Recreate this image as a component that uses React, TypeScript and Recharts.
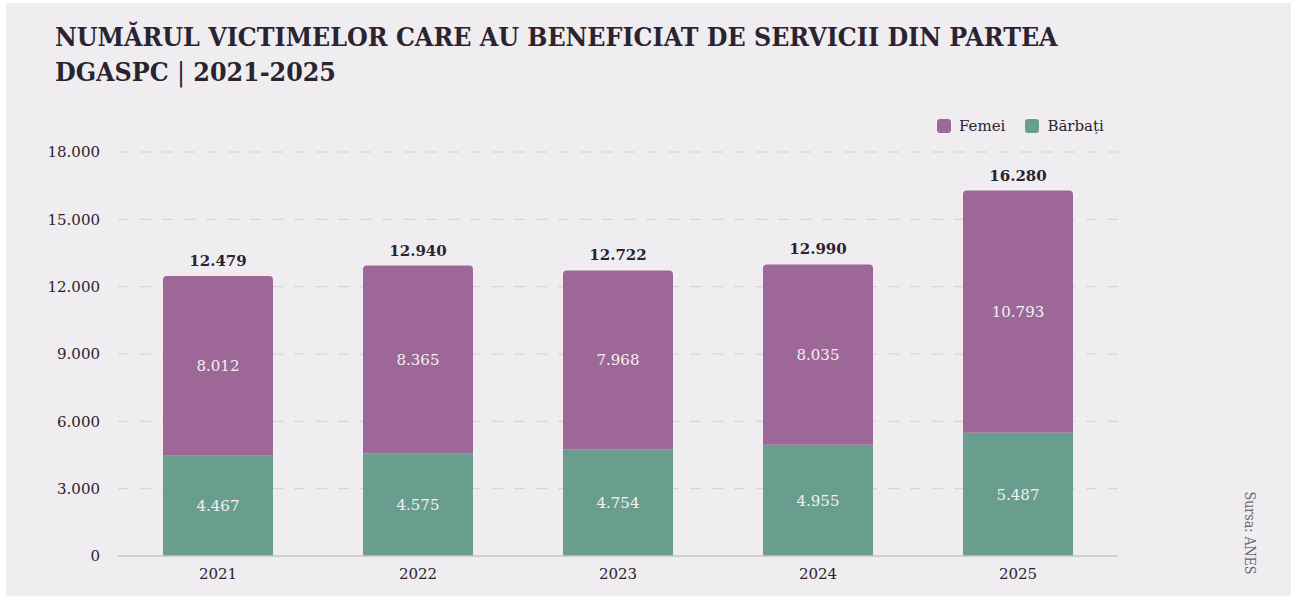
import React from 'react';
import { BarChart, Bar, XAxis, YAxis, CartesianGrid, LabelList } from 'recharts';

const years = ['2021', '2022', '2023', '2024', '2025'];
const barbati = [4467, 4575, 4754, 4955, 5487];
const femei = [8012, 8365, 7968, 8035, 10793];
const yTicks = [0, 3000, 6000, 9000, 12000, 15000, 18000];

const PURPLE = '#9d6897';
const GREEN = '#699e8f';
const INK = '#2b2430';
const SERIF = '"DejaVu Serif", serif';
const SERIF_C = '"DejaVu Serif Condensed", "DejaVu Serif", serif';

const data = years.map((y, i) => ({
  year: y,
  barbati: barbati[i],
  femei: femei[i],
  total: barbati[i] + femei[i],
}));

const fmt = (v: any) => String(v).replace(/\B(?=(\d{3})+(?!\d))/g, '.');

function LegendBox() {
  const items = [
    { name: 'Femei', color: PURPLE },
    { name: 'Bărbați', color: GREEN },
  ];
  return (
    <div style={{ display: 'flex', gap: 20, fontFamily: SERIF, fontSize: 15, color: INK }}>
      {items.map(it => (
        <div key={it.name} style={{ display: 'flex', alignItems: 'center', gap: 8 }}>
          <span style={{ width: 14, height: 14, borderRadius: 3, background: it.color, display: 'inline-block' }} />
          <span>{it.name}</span>
        </div>
      ))}
    </div>
  );
}

export default function App() {
  return (
    <div style={{ position: 'absolute', left: 0, top: 0, width: 1291, height: 596, background: '#ffffff' }}>
      <div style={{ position: 'absolute', left: 6, top: 3, width: 1285, height: 593, background: '#efedf0' }} />
      <div style={{
        position: 'absolute', left: 55, top: 19, width: 1200, fontFamily: SERIF_C, fontWeight: 700,
        fontSize: 26.5, lineHeight: '35px', color: INK, whiteSpace: 'nowrap',
      }}>
        NUMĂRUL VICTIMELOR CARE AU BENEFICIAT DE SERVICII DIN PARTEA<br />
        DGASPC <span style={{ fontWeight: 400 }}>|</span> 2021-2025
      </div>
      <div style={{ position: 'absolute', left: 937, top: 117 }}>
        <LegendBox />
      </div>
      <div style={{
        position: 'absolute', left: 1250, top: 533, transform: 'translate(-50%, -50%) rotate(90deg)',
        fontFamily: SERIF_C, fontSize: 14, color: '#6d6670', whiteSpace: 'nowrap',
      }}>
        Sursa: ANES
      </div>
      <div style={{ position: 'absolute', left: 0, top: 0 }}>
        <BarChart width={1291} height={596} data={data}
          margin={{ top: 152, right: 173, left: 0, bottom: 10 }}>
          <CartesianGrid vertical={false} stroke="#d2cfd4" strokeDasharray="11 11"
            horizontalValues={[3000, 6000, 9000, 12000, 15000, 18000]} />
          <XAxis dataKey="year" height={30} tickSize={0} tickMargin={12}
            axisLine={{ stroke: '#c9c6cb', strokeWidth: 1.5 }} tickLine={false}
            tick={{ fill: INK, fontSize: 15, fontFamily: SERIF }} />
          <YAxis width={118} domain={[0, 18000]} ticks={yTicks} tickSize={0} tickMargin={18}
            axisLine={false} tickLine={false} tickFormatter={fmt}
            tick={{ fill: INK, fontSize: 15, fontFamily: SERIF }} />
          <Bar dataKey="barbati" name="Bărbați" stackId="a" fill={GREEN} barSize={110} isAnimationActive={false}>
            <LabelList dataKey="barbati" position="center" formatter={fmt}
              style={{ fill: '#f4f0f4', fontSize: 15, fontFamily: SERIF }} />
          </Bar>
          <Bar dataKey="femei" name="Femei" stackId="a" fill={PURPLE} barSize={110} radius={[4, 4, 0, 0]} isAnimationActive={false}>
            <LabelList dataKey="femei" position="center" formatter={fmt}
              style={{ fill: '#f4f0f4', fontSize: 15, fontFamily: SERIF }} />
            <LabelList dataKey="total" position="top" offset={10} formatter={fmt}
              style={{ fill: INK, fontSize: 15, fontWeight: 700, fontFamily: SERIF }} />
          </Bar>
        </BarChart>
      </div>
    </div>
  );
}
